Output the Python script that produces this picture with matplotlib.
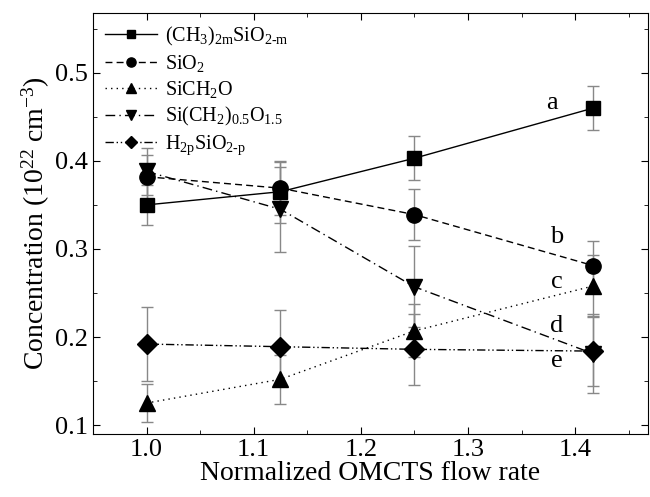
import matplotlib
matplotlib.use("Agg")
import matplotlib.pyplot as plt
from matplotlib.ticker import MultipleLocator

plt.rcParams["font.family"] = ["Liberation Serif", "DejaVu Serif"]
plt.rcParams["mathtext.fontset"] = "custom"
plt.rcParams["mathtext.rm"] = "Liberation Serif"
plt.rcParams["mathtext.it"] = "Liberation Serif:italic"

flow = [1.0, 1.125, 1.25, 1.417]

ch3 = [0.350, 0.365, 0.403, 0.460]
ch3_err = [0.023, 0.035, 0.025, 0.025]
sio2 = [0.382, 0.369, 0.339, 0.281]
sio2_err = [0.025, 0.030, 0.029, 0.028]
sich2o = [0.125, 0.152, 0.207, 0.258]
sich2o_err = [0.022, 0.028, 0.030, 0.035]
sich2 = [0.388, 0.345, 0.257, 0.181]
sich2_err = [0.027, 0.048, 0.046, 0.045]
h2p = [0.192, 0.189, 0.186, 0.184]
h2p_err = [0.042, 0.042, 0.040, 0.040]

labels = [
    r"(CH$_3$)$_{\mathrm{2m}}$SiO$_{\mathrm{2\text{-}m}}$",
    r"SiO$_2$",
    r"SiCH$_2$O",
    r"Si(CH$_2$)$_{\mathrm{0.5}}$O$_{\mathrm{1.5}}$",
    r"H$_{\mathrm{2p}}$SiO$_{\mathrm{2\text{-}p}}$",
]
curve_tags = ["a", "b", "c", "d", "e"]

series = [ch3, sio2, sich2o, sich2, h2p]
errors = [ch3_err, sio2_err, sich2o_err, sich2_err, h2p_err]
markers = ["s", "o", "^", "v", "D"]
sizes = [9.5, 11, 11.5, 12, 10]
styles = ["-", (0, (5, 3)), (0, (1, 3)), (0, (7, 3, 1, 3)), (0, (6, 2, 1, 2, 1, 2))]

fig = plt.figure(figsize=(6.5, 4.97), dpi=100)
ax = fig.add_axes([0.143, 0.127, 0.854, 0.847])

for y, err in zip(series, errors):
    ax.errorbar(flow, y, yerr=err, fmt="none", ecolor="#888888", elinewidth=1.0,
                capsize=4, capthick=1.0, zorder=1)
for y, lab, m, ms, ls in zip(series, labels, markers, sizes, styles):
    ax.plot(flow, y, color="black", linestyle=ls, linewidth=1.0, marker=m,
            markersize=ms, label=lab, zorder=3)

tag_pos = [(1.378, 0.466), (1.383, 0.313), (1.383, 0.263), (1.383, 0.213), (1.383, 0.173)]
for t, (tx, ty) in zip(curve_tags, tag_pos):
    ax.text(tx, ty, t, fontsize=19, ha="center", va="center")

ax.set_xlim(0.95, 1.468)
ax.set_ylim(0.09, 0.568)
ax.xaxis.set_major_locator(MultipleLocator(0.1))
ax.xaxis.set_minor_locator(MultipleLocator(0.05))
ax.yaxis.set_major_locator(MultipleLocator(0.1))
ax.yaxis.set_minor_locator(MultipleLocator(0.05))
ax.tick_params(which="both", direction="in", top=True, right=True, labelsize=19)
ax.tick_params(which="major", length=5)
ax.tick_params(which="minor", length=3)
ax.set_xlabel("Normalized OMCTS flow rate", fontsize=20, labelpad=0)
ax.set_ylabel(r"Concentration (10$^{22}$ cm$^{-3}$)", fontsize=20, labelpad=2)

ax.legend(loc="upper left", frameon=False, fontsize=14.5, handlelength=2.6,
          handletextpad=0.4, labelspacing=0.25, borderaxespad=0.2, markerscale=0.6)

fig.savefig("out.png", dpi=100)
